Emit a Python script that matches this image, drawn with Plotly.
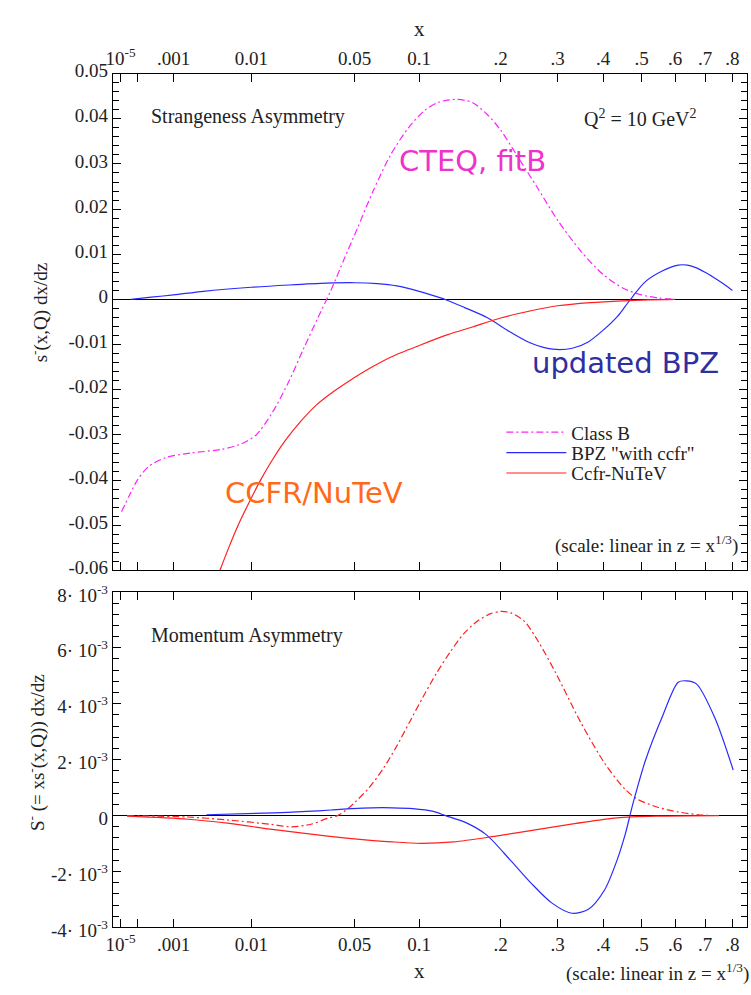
import numpy as np
import plotly.graph_objects as go

# ---------------- data (x values, asymmetry values) ----------------
top_classB_x = [1.2e-5, 4e-5, 1e-4, 2.5e-4, 7e-4, 2e-3, 5e-3, 8e-3, 0.011, 0.015, 0.02, 0.025, 0.031,
                0.037, 0.044, 0.052, 0.062, 0.075, 0.09, 0.105, 0.12, 0.14, 0.16, 0.18, 0.2, 0.23,
                0.26, 0.3, 0.35, 0.4, 0.45, 0.5, 0.55, 0.6]
top_classB_y = [-0.047, -0.0435, -0.040, -0.037, -0.035, -0.034, -0.0332, -0.032, -0.030, -0.025,
                -0.018, -0.011, -0.004, 0.002, 0.009, 0.016, 0.024, 0.032, 0.038, 0.0418, 0.0437,
                0.0443, 0.0436, 0.041, 0.0375, 0.031, 0.025, 0.0175, 0.0105, 0.0055, 0.0025, 0.001,
                0.0003, 0.0]

top_bpz_x = [5e-5, 3e-4, 1e-3, 3e-3, 0.01, 0.02, 0.035, 0.05, 0.065, 0.08, 0.1, 0.115, 0.127, 0.15,
             0.18, 0.215, 0.25, 0.29, 0.33, 0.365, 0.40, 0.435, 0.455, 0.477, 0.51, 0.56, 0.61,
             0.64, 0.67, 0.70, 0.735, 0.77, 0.80]
top_bpz_y = [0.0, 0.0005, 0.001, 0.0018, 0.0027, 0.0032, 0.0036, 0.0037, 0.0035, 0.003, 0.0018,
             0.0008, 0.0, -0.0018, -0.0040, -0.0072, -0.0097, -0.0110, -0.0108, -0.0094, -0.0068,
             -0.0038, -0.0016, 0.0008, 0.0039, 0.0063, 0.0076, 0.0076, 0.0070, 0.0060, 0.0047,
             0.0033, 0.0020]

top_ccfr_x = [0.0048, 0.006, 0.0075, 0.0095, 0.012, 0.015, 0.019, 0.024, 0.03, 0.038, 0.047, 0.06,
              0.075, 0.1, 0.13, 0.16, 0.2, 0.25, 0.3, 0.37, 0.45, 0.52, 0.6]
top_ccfr_y = [-0.06, -0.055, -0.050, -0.045, -0.040, -0.0355, -0.031, -0.027, -0.0235, -0.0205,
              -0.018, -0.0152, -0.0128, -0.0102, -0.0078, -0.0061, -0.0041, -0.0025, -0.0014,
              -0.0007, -0.0003, -0.0001, 0.0]

bot_classB_x = [3e-5, 1.8e-3, 6.1e-3, 0.0144, 0.0204, 0.028, 0.0352, 0.0403, 0.0451, 0.0506,
                0.0593, 0.0689, 0.0795, 0.0911, 0.1038, 0.1176, 0.1327, 0.1489, 0.1664, 0.1852,
                0.2002, 0.216, 0.2383, 0.2621, 0.2961, 0.347, 0.4036, 0.4553, 0.4884, 0.5467,
                0.6096, 0.6773, 0.72]
bot_classB_y = [0.0, -0.05e-3, -0.16e-3, -0.31e-3, -0.40e-3, -0.31e-3, -0.1e-3, 0.0, 0.2e-3,
                0.5e-3, 1.0e-3, 1.65e-3, 2.45e-3, 3.35e-3, 4.25e-3, 5.1e-3, 5.85e-3, 6.5e-3,
                6.95e-3, 7.22e-3, 7.3e-3, 7.25e-3, 6.95e-3, 6.25e-3, 5.1e-3, 3.37e-3, 1.87e-3,
                0.94e-3, 0.59e-3, 0.3e-3, 0.13e-3, 0.03e-3, 0.0]

bot_bpz_x = [3.3e-3, 0.0155, 0.0263, 0.0372, 0.0482, 0.0613, 0.0765, 0.0941, 0.1141, 0.1274,
             0.1517, 0.1789, 0.2158, 0.2503, 0.288, 0.3294, 0.3653, 0.4036, 0.434, 0.4553,
             0.4771, 0.5111, 0.5587, 0.6096, 0.636, 0.67, 0.7348, 0.803]
bot_bpz_y = [0.03e-3, 0.1e-3, 0.15e-3, 0.2e-3, 0.25e-3, 0.28e-3, 0.28e-3, 0.25e-3, 0.15e-3, 0.0,
             -0.25e-3, -0.68e-3, -1.61e-3, -2.42e-3, -3.12e-3, -3.49e-3, -3.35e-3, -2.65e-3,
             -1.61e-3, -0.68e-3, 0.47e-3, 1.98e-3, 3.49e-3, 4.77e-3, 4.82e-3, 4.71e-3, 3.49e-3,
             1.63e-3]

bot_ccfr_x = [3e-5, 1.8e-3, 6.1e-3, 0.0144, 0.028, 0.0482, 0.0765, 0.1017, 0.1367, 0.1908,
              0.2574, 0.338, 0.434, 0.5467, 0.75]
bot_ccfr_y = [-0.02e-3, -0.13e-3, -0.28e-3, -0.48e-3, -0.66e-3, -0.82e-3, -0.94e-3, -0.99e-3,
              -0.94e-3, -0.74e-3, -0.51e-3, -0.28e-3, -0.08e-3, -0.02e-3, 0.0]

x_tick_vals = [1e-5, 1e-4, 1e-3, 0.01, 0.05, 0.1, 0.2, 0.3, 0.4, 0.5, 0.6, 0.7, 0.8]
x_tick_text = ["10<sup>-5</sup>", "", ".001", "0.01", "0.05", "0.1", ".2", ".3", ".4", ".5",
               ".6", ".7", ".8"]
top_y_ticks = [-0.06, -0.05, -0.04, -0.03, -0.02, -0.01, 0, 0.01, 0.02, 0.03, 0.04, 0.05]
top_y_text = ["-0.06", "-0.05", "-0.04", "-0.03", "-0.02", "-0.01", "0", "0.01", "0.02", "0.03",
              "0.04", "0.05"]
bot_y_ticks = [-0.004, -0.002, 0, 0.002, 0.004, 0.006, 0.008]
bot_y_text = ["-4· 10<sup>-3</sup>", "-2· 10<sup>-3</sup>", "0", "2· 10<sup>-3</sup>",
              "4· 10<sup>-3</sup>", "6· 10<sup>-3</sup>", "8· 10<sup>-3</sup>"]

# ---------------- figure ----------------
W, H = 751, 995
SERIF = "Liberation Serif"
MAGENTA = "#ff22ff"
BLUE = "#2a2aff"
RED = "#ff2020"
DASHDOT = "7px,3px,2px,3px"


def z(v):
    return np.cbrt(np.asarray(v, dtype=float))


def px_x(p):
    return p / W


def px_y(p):
    return 1 - p / H


fig = go.Figure()

fig.add_trace(go.Scatter(x=z(top_classB_x), y=top_classB_y, mode="lines", name="Class B",
                         legend="legend",
                         line=dict(color=MAGENTA, width=1.2, dash=DASHDOT, shape="spline",
                                   smoothing=0.8), xaxis="x", yaxis="y"))
fig.add_trace(go.Scatter(x=z(top_bpz_x), y=top_bpz_y, mode="lines", name='BPZ "with ccfr"',
                         legend="legend2",
                         line=dict(color=BLUE, width=1.2, shape="spline", smoothing=0.8),
                         xaxis="x", yaxis="y"))
fig.add_trace(go.Scatter(x=z(top_ccfr_x), y=top_ccfr_y, mode="lines", name="Ccfr-NuTeV",
                         legend="legend3",
                         line=dict(color=RED, width=1.2, shape="spline", smoothing=0.8),
                         xaxis="x", yaxis="y"))

fig.add_trace(go.Scatter(x=z(bot_classB_x), y=bot_classB_y, mode="lines", showlegend=False,
                         line=dict(color=RED, width=1.2, dash=DASHDOT, shape="spline",
                                   smoothing=0.8), xaxis="x2", yaxis="y2"))
fig.add_trace(go.Scatter(x=z(bot_bpz_x), y=bot_bpz_y, mode="lines", showlegend=False,
                         line=dict(color=BLUE, width=1.2, shape="spline", smoothing=0.8),
                         xaxis="x2", yaxis="y2"))
fig.add_trace(go.Scatter(x=z(bot_ccfr_x), y=bot_ccfr_y, mode="lines", showlegend=False,
                         line=dict(color=RED, width=1.2, shape="spline", smoothing=0.8),
                         xaxis="x2", yaxis="y2"))

# empty traces so the minor-tick overlay axes get drawn
fig.add_trace(go.Scatter(x=[], y=[], mode="lines", showlegend=False, hoverinfo="skip",
                         xaxis="x", yaxis="y3"))
fig.add_trace(go.Scatter(x=[], y=[], mode="lines", showlegend=False, hoverinfo="skip",
                         xaxis="x2", yaxis="y4"))

zr = [0.01, 0.95]
x_dom = [px_x(106.8), px_x(747)]
tickfont = dict(family=SERIF, size=19, color="#222")
top_dom = [px_y(573), px_y(62.3)]
bot_dom = [px_y(940), px_y(595)]

common_x = dict(range=zr, domain=x_dom, tickvals=list(z(x_tick_vals)), ticktext=x_tick_text,
                ticks="inside", ticklen=8, tickcolor="black", showline=True, linecolor="black",
                linewidth=1, mirror="ticks", showgrid=False, zeroline=False, tickfont=tickfont)

minor_common = dict(tickmode="linear", tick0=0, ticks="inside", ticklen=6, tickcolor="black",
                    showticklabels=False, showline=False, showgrid=False, zeroline=False,
                    mirror="ticks")


def one_legend(ycenter):
    return dict(x=px_x(499), y=px_y(ycenter), xanchor="left", yanchor="middle",
                bgcolor="rgba(0,0,0,0)", font=dict(family=SERIF, size=19, color="#222"),
                itemwidth=60, borderwidth=0)


fig.update_layout(
    width=W, height=H, margin=dict(l=0, r=0, t=0, b=0),
    paper_bgcolor="white", plot_bgcolor="white",
    xaxis=dict(common_x, anchor="y", side="top"),
    xaxis2=dict(common_x, anchor="y2", side="bottom", matches="x"),
    yaxis=dict(domain=top_dom, range=[-0.06, 0.05], anchor="x",
               tickvals=top_y_ticks, ticktext=top_y_text, ticks="inside", ticklen=8,
               tickcolor="black", showline=True, linecolor="black", linewidth=1, mirror="ticks",
               showgrid=False, zeroline=True, zerolinecolor="black", zerolinewidth=1,
               tickfont=tickfont, ticklabelshift=-3),
    yaxis3=dict(minor_common, overlaying="y", anchor="x", side="left", range=[-0.06, 0.05],
                dtick=0.002),
    yaxis2=dict(domain=bot_dom, range=[-0.004, 0.008], anchor="x2",
                tickvals=bot_y_ticks, ticktext=bot_y_text, ticks="inside", ticklen=8,
                tickcolor="black", showline=True, linecolor="black", linewidth=1,
                mirror="ticks", showgrid=False, zeroline=True, zerolinecolor="black",
                zerolinewidth=1, tickfont=tickfont, ticklabelshift=3),
    yaxis4=dict(minor_common, overlaying="y2", anchor="x2", side="left",
                range=[-0.004, 0.008], dtick=0.0004),
    legend=one_legend(431),
    legend2=one_legend(452),
    legend3=one_legend(473),
    showlegend=True,
)

ann = []


def add_text(text, x, y, xanchor="left", yanchor="middle", size=20, color="#222",
             family=SERIF, angle=0):
    ann.append(dict(text=text, x=px_x(x), y=px_y(y), xref="paper", yref="paper",
                    xanchor=xanchor, yanchor=yanchor, showarrow=False, textangle=angle,
                    font=dict(family=family, size=size, color=color)))


add_text("x", 416, 16, xanchor="center", size=21)
add_text("x", 416, 985, xanchor="center", size=21)
add_text("(scale: linear in z = x<sup>1/3</sup>)", 751, 986, xanchor="right", size=19)
add_text("(scale: linear in z = x<sup>1/3</sup>)", 740, 546, xanchor="right", size=19)
add_text("Strangeness Asymmetry", 143, 106, size=20)
add_text("Q<sup>2</sup> = 10 GeV<sup>2</sup>", 580, 108, size=20)
add_text("Momentum Asymmetry", 143, 640, size=20)
add_text("s<sup>-</sup>(x,Q) dx/dz", 33, 308, xanchor="center", size=19, angle=-90)
add_text("S<sup>-</sup> (= xs<sup>-</sup>(x,Q)) dx/dz", 30, 760, xanchor="center", size=19,
         angle=-90)
add_text("CTEQ, fitB", 394, 152, size=29, color="#ee33cc", family="DejaVu Sans")
add_text("updated BPZ", 528, 360, size=29, color="#2f2f9f", family="DejaVu Sans")
add_text("CCFR/NuTeV", 218, 493, size=29, color="#ff6a1a", family="DejaVu Sans")

fig.update_layout(annotations=ann)

fig.write_html("out.html")
